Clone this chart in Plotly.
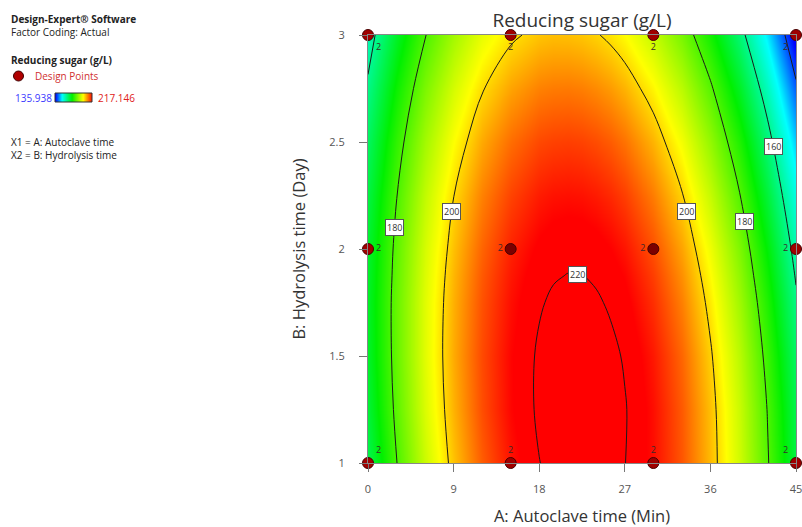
import numpy as np
import plotly.graph_objects as go

# ---------------- data ----------------
AUTOCLAVE_MIN = [0, 3, 6, 9, 12, 15, 18, 19.5, 21, 22.5, 24, 25.5, 27, 30, 33, 36, 39, 42, 45]
HYDROLYSIS_DAY = [1.0, 1.25, 1.5, 1.75, 1.875, 2.0, 2.25, 2.5, 2.75, 3.0]

# Reducing sugar (g/L) surface, one row per hydrolysis time (day)
SUGAR_B1000 = [165.8, 179.8, 191.8, 201.8, 209.8, 215.8, 219.9, 221.1, 221.9, 222.2, 222.0, 221.3, 220.1, 216.2, 210.3, 202.4, 192.5, 180.6, 166.8]
SUGAR_B1250 = [167.7, 181.5, 193.3, 203.1, 211.0, 216.8, 220.7, 221.8, 222.5, 222.7, 222.4, 221.6, 220.3, 216.1, 210.0, 202.0, 191.9, 179.8, 165.8]
SUGAR_B1500 = [168.8, 182.4, 194.0, 203.7, 211.3, 216.9, 220.6, 221.6, 222.2, 222.3, 221.9, 221.0, 219.6, 215.3, 209.0, 200.7, 190.4, 178.1, 163.9]
SUGAR_B1750 = [169.1, 182.5, 193.9, 203.3, 210.7, 216.1, 219.6, 220.6, 221.0, 221.0, 220.5, 219.5, 218.0, 213.5, 207.0, 198.5, 188.0, 175.6, 161.1]
SUGAR_B1875 = [168.8, 182.1, 193.4, 202.8, 210.1, 215.4, 218.8, 219.7, 220.1, 220.1, 219.5, 218.4, 216.9, 212.3, 205.7, 197.1, 186.5, 173.9, 159.4]
SUGAR_B2000 = [168.4, 181.6, 192.8, 202.0, 209.2, 214.5, 217.7, 218.6, 219.0, 218.9, 218.3, 217.1, 215.5, 210.8, 204.1, 195.5, 184.8, 172.1, 157.5]
SUGAR_B2250 = [166.8, 179.8, 190.9, 199.9, 206.9, 211.9, 215.0, 215.8, 216.0, 215.8, 215.1, 213.9, 212.2, 207.3, 200.4, 191.5, 180.6, 167.8, 152.9]
SUGAR_B2500 = [164.4, 177.2, 188.0, 196.8, 203.7, 208.5, 211.4, 212.0, 212.2, 211.9, 211.1, 209.8, 208.0, 202.9, 195.8, 186.7, 175.6, 162.6, 147.5]
SUGAR_B2750 = [161.1, 173.7, 184.3, 192.9, 199.6, 204.2, 206.9, 207.4, 207.5, 207.1, 206.2, 204.8, 202.9, 197.6, 190.3, 181.0, 169.7, 156.5, 141.2]
SUGAR_B3000 = [156.9, 169.3, 179.7, 188.1, 194.6, 199.0, 201.5, 202.0, 201.9, 201.4, 200.4, 198.9, 196.9, 191.4, 183.9, 174.4, 162.9, 149.5, 134.0]
SUGAR = [SUGAR_B1000, SUGAR_B1250, SUGAR_B1500, SUGAR_B1750, SUGAR_B1875,
         SUGAR_B2000, SUGAR_B2250, SUGAR_B2500, SUGAR_B2750, SUGAR_B3000]

DESIGN_A = [0, 15, 30, 45, 0, 15, 30, 45, 0, 15, 30, 45]
DESIGN_B = [1, 1, 1, 1, 2, 2, 2, 2, 3, 3, 3, 3]
REPLICATES = [2, 2, 2, 2, 2, 2, 2, 2, 2, 2, 2, 2]

TICKS_A = [0, 9, 18, 27, 36, 45]
TICKS_B = [1, 1.5, 2, 2.5, 3]
CONTOUR_LEVELS = [140, 160, 180, 200, 220]
RANGE_MIN = 135.938
RANGE_MAX = 217.146

# ---------------- styling / layout ----------------
W, H = 802, 527
PLOT_L, PLOT_R, PLOT_T, PLOT_B = 368, 796, 35, 463   # plot-area pixels
FONT = "Open Sans"
COLORSCALE = [[0.0, "#0000ff"], [0.18, "#00ffff"], [0.45, "#00f000"],
              [0.75, "#ffff00"], [1.0, "#ff0000"]]

def px(xp):
    return xp / W

def py(yp):
    return 1 - yp / H

fig = go.Figure()

fig.add_trace(go.Heatmap(
    x=AUTOCLAVE_MIN, y=HYDROLYSIS_DAY, z=SUGAR,
    zsmooth="best", zmin=RANGE_MIN, zmax=RANGE_MAX,
    colorscale=COLORSCALE, showscale=False, hoverinfo="skip",
))

fig.add_trace(go.Contour(
    x=AUTOCLAVE_MIN, y=HYDROLYSIS_DAY, z=SUGAR,
    contours=dict(coloring="none", start=CONTOUR_LEVELS[0],
                  end=CONTOUR_LEVELS[-1],
                  size=CONTOUR_LEVELS[1] - CONTOUR_LEVELS[0]),
    line=dict(color="#1a1a1a", width=1, smoothing=1.0),
    showscale=False, hoverinfo="skip",
))

# design points
pt_colors = ["#a00000"] * len(DESIGN_A)
for i, (a, b) in enumerate(zip(DESIGN_A, DESIGN_B)):
    if 0 < a < 45 and b == 2:
        pt_colors[i] = "#7a0000"
positions = []
for a, b in zip(DESIGN_A, DESIGN_B):
    v = "top" if b == 1 else ("bottom" if b == 3 else "middle")
    if b == 2:
        h = "right" if a == 0 else "left"
    else:
        h = "right" if a == 0 else ("left" if a == 45 else "center")
    positions.append(f"{v} {h}")

fig.add_trace(go.Scatter(
    x=DESIGN_A, y=DESIGN_B, mode="markers+text",
    text=[str(r) for r in REPLICATES], textposition=positions,
    textfont=dict(size=9, color="#3a2a2a", family=FONT),
    marker=dict(size=11, color=pt_colors, line=dict(color="#4a0000", width=1)),
    cliponaxis=False, hoverinfo="skip", showlegend=False,
))

# gradient bar of the info panel (same colour scale, min..max of the legend)
fig.add_trace(go.Heatmap(
    x=[0, 1], y=[0, 1], z=[[RANGE_MIN, RANGE_MAX], [RANGE_MIN, RANGE_MAX]],
    zsmooth="best", zmin=RANGE_MIN, zmax=RANGE_MAX, colorscale=COLORSCALE,
    showscale=False, hoverinfo="skip", xaxis="x2", yaxis="y2",
))

# contour labels placed on the contour lines found from the grid
Z = np.array(SUGAR)
Bv = np.array(HYDROLYSIS_DAY)

def row_at(b):
    col = [np.interp(b, Bv, Z[:, j]) for j in range(Z.shape[1])]
    a_f = np.linspace(0, 45, 1801)
    return a_f, np.interp(a_f, AUTOCLAVE_MIN, col)

def label_x(level, b, side):
    a_f, z_f = row_at(b)
    im = int(np.argmax(z_f))
    if side == "peak":
        return float(a_f[im])
    if side == "left":
        return float(np.interp(level, z_f[:im + 1], a_f[:im + 1]))
    return float(np.interp(level, z_f[im:][::-1], a_f[im:][::-1]))

LABEL_SPOTS = [(180, 2.10, "left"), (200, 2.175, "left"), (200, 2.175, "right"),
               (180, 2.13, "right"), (160, 2.48, "right"), (220, 1.88, "peak")]
annotations = []
for lvl, b, side in LABEL_SPOTS:
    ax = label_x(lvl, b, side)
    annotations.append(dict(
        x=ax + (1.0 if side == "peak" else 0), y=b, xref="x", yref="y",
        text=str(lvl), showarrow=False, bgcolor="white", bordercolor="#555",
        borderwidth=1, borderpad=1, font=dict(size=9, color="#333", family=FONT),
        yanchor="middle"))

# left info panel
def info(text, xp, yp, size=10, color="#222", bold=False):
    t = f"<b>{text}</b>" if bold else text
    annotations.append(dict(x=px(xp), y=py(yp), xref="paper", yref="paper",
                            text=t, showarrow=False, xanchor="left",
                            yanchor="middle",
                            font=dict(size=size, color=color, family=FONT)))

info("Design-Expert® Software", 9, 19, bold=True)
info("Factor Coding: Actual", 9, 32)
info("Reducing sugar (g/L)", 9, 60, bold=True)
info("Design Points", 33, 76, color="#d03030")
info(f"{RANGE_MIN:.3f}", 13, 98, color="#3b3bff")
info(f"{RANGE_MAX:.3f}", 96, 98, color="#e02020")
info("X1 = A: Autoclave time", 9, 142)
info("X2 = B: Hydrolysis time", 9, 155)

shapes = [
    dict(type="circle", xref="paper", yref="paper",
         x0=px(13.5), x1=px(23.5), y0=py(81), y1=py(71),
         fillcolor="#b00000", line=dict(color="#400000", width=1)),
    dict(type="rect", xref="paper", yref="paper",
         x0=px(55), x1=px(92), y0=py(102), y1=py(93),
         line=dict(color="#333", width=1), fillcolor="rgba(0,0,0,0)"),
]

axis_common = dict(showgrid=False, zeroline=False, ticks="outside",
                   ticklen=8, tickcolor="#777", showline=True, linecolor="#888",
                   linewidth=1, mirror=True, automargin=False,
                   ticklabeloverflow="allow",
                   tickfont=dict(size=11, color="#555", family=FONT))

fig.update_layout(
    width=W, height=H, margin=dict(l=0, r=0, t=0, b=0, autoexpand=False),
    paper_bgcolor="white", plot_bgcolor="white", showlegend=False,
    title=dict(text="Reducing sugar (g/L)", x=(PLOT_L + PLOT_R) / 2 / W,
               xanchor="center", y=1 - 20 / H, yanchor="middle",
               font=dict(size=19, color="#333", family=FONT)),
    xaxis=dict(domain=[px(PLOT_L), px(PLOT_R)], range=[0, 45], tickvals=TICKS_A,
               anchor="y", ticklabelstandoff=8,
               title=dict(text="A: Autoclave time (Min)", standoff=19,
                          font=dict(size=16.5, color="#333", family=FONT)),
               **axis_common),
    yaxis=dict(domain=[py(PLOT_B), py(PLOT_T)], range=[1, 3], tickvals=TICKS_B,
               anchor="x", ticklabelstandoff=12,
               title=dict(text="B: Hydrolysis time (Day)", standoff=19,
                          font=dict(size=16.5, color="#333", family=FONT)),
               **axis_common),
    xaxis2=dict(domain=[px(55), px(92)], range=[0, 1], visible=False,
                anchor="y2", fixedrange=True),
    yaxis2=dict(domain=[py(102), py(93)], range=[0, 1], visible=False,
                anchor="x2", fixedrange=True),
    annotations=annotations, shapes=shapes,
)

fig.write_html("out.html",
               config={"displayModeBar": False, "staticPlot": True},
               post_script="document.body.style.margin='0px';"
                           "document.body.style.overflow='hidden';")
